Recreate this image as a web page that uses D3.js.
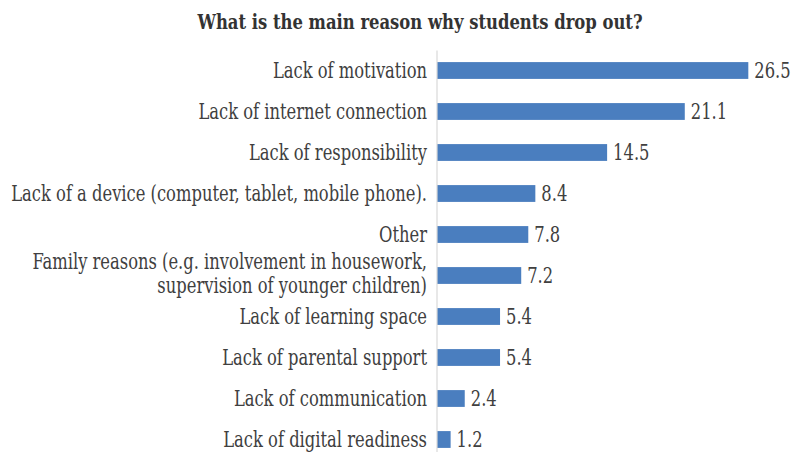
<!DOCTYPE html>
<html>
<head>
<meta charset="utf-8">
<script src="https://cdn.jsdelivr.net/npm/d3@7"></script>
<style>
  html, body { margin: 0; padding: 0; background: #fff; }
  svg { display: block; }
  text { font-family: "DejaVu Serif Condensed", "DejaVu Serif", serif; font-stretch: condensed; }
</style>
</head>
<body>
<svg id="chart" width="797" height="452"></svg>
<script>
// Survey answers, largest first
const categories = [
  "Lack of motivation",
  "Lack of internet connection",
  "Lack of responsibility",
  "Lack of a device (computer, tablet, mobile phone).",
  "Other",
  "Family reasons (e.g. involvement in housework,|supervision of younger children)",
  "Lack of learning space",
  "Lack of parental support",
  "Lack of communication",
  "Lack of digital readiness"
];
const values = [26.5, 21.1, 14.5, 8.4, 7.8, 7.2, 5.4, 5.4, 2.4, 1.2];
const axisMax = 30;
const title = "What is the main reason why students drop out?";

const W = 797, H = 452;
const axisX = 436.5;
const labelSize = 21.5;
const squeeze = 0.845;      // horizontal compression of label glyphs
const titleSqueeze = 0.89;

const svg = d3.select("#chart");

const x = d3.scaleLinear().domain([0, axisMax]).range([axisX, axisX + 353]);
const y = d3.scaleBand().domain(categories).range([50, 460])
  .paddingInner(0.59).paddingOuter(0.295);

// title
svg.append("text")
  .attr("transform", `translate(420,28.5) scale(${titleSqueeze},1)`)
  .attr("text-anchor", "middle")
  .attr("font-weight", "bold")
  .attr("font-size", 20.5)
  .attr("fill", "#333")
  .text(title);

// bars
svg.append("g").selectAll("rect")
  .data(categories)
  .join("rect")
  .attr("x", x(0) + 0.5)
  .attr("y", d => y(d))
  .attr("width", (d, i) => x(values[i]) - x(0) - 0.5)
  .attr("height", y.bandwidth())
  .attr("fill", "#4a7ebf");

// value labels
svg.append("g").selectAll("text")
  .data(categories)
  .join("text")
  .attr("transform", (d, i) => `translate(${x(values[i]) + 6},${y(d) + y.bandwidth() / 2 + 7.5}) scale(${squeeze},1)`)
  .attr("font-size", labelSize)
  .attr("fill", "#404040")
  .text((d, i) => values[i].toFixed(1));

// category axis
const axis = d3.axisLeft(y).tickSize(0).tickPadding(0);
const gAxis = svg.append("g").attr("transform", `translate(${axisX},0)`).call(axis);
gAxis.select(".domain").attr("stroke", "#d9d9d9").attr("stroke-width", 1.2);
gAxis.selectAll(".tick text").each(function (d) {
  const t = d3.select(this);
  const lines = d.split("|");
  t.text(null)
    .attr("x", null).attr("dy", null)
    .attr("font-size", labelSize)
    .attr("fill", "#404040")
    .attr("font-family", null)
    .attr("text-anchor", "end")
    .attr("transform", `translate(-9.5,7.5) scale(${squeeze},1)`);
  const lh = 23.5;
  const y0 = -(lines.length - 1) * lh / 2 - (lines.length > 1 ? 2 : 0);
  lines.forEach((ln, k) => {
    t.append("tspan").attr("x", 0).attr("y", y0 + k * lh).text(ln);
  });
});
</script>
</body>
</html>
